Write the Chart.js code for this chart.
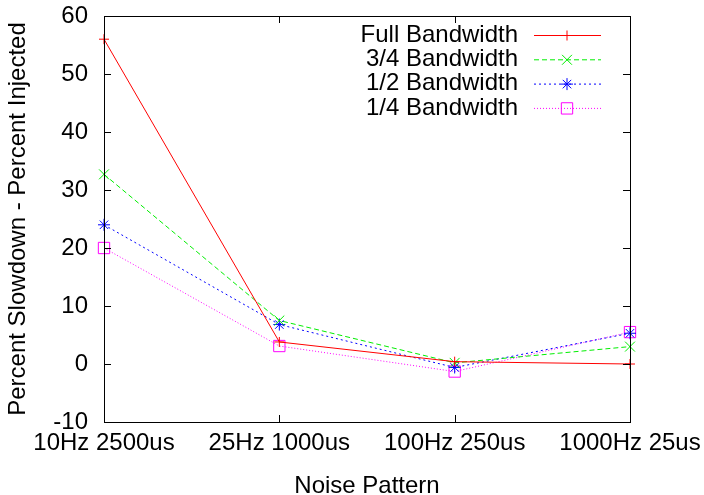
<!DOCTYPE html>
<html>
<head>
<meta charset="utf-8">
<script src="https://cdn.jsdelivr.net/npm/chart.js@4.4.1/dist/chart.umd.min.js"></script>
<style>
  body { margin: 0; background: #fff; }
</style>
</head>
<body>
<canvas id="noiseChart" width="704" height="495"></canvas>
<script>
const categories = ["10Hz 2500us", "25Hz 1000us", "100Hz 250us", "1000Hz 25us"];
const fullBw = [56, 3.8, 0.4, 0];
const threeQuarterBw = [32.7, 7.5, 0.2, 3.0];
const halfBw = [24, 6.8, -0.6, 5.3];
const quarterBw = [20, 3.1, -1.3, 5.5];
const yTicks = [-10, 0, 10, 20, 30, 40, 50, 60];

const FONT = "'Liberation Sans', Arial, sans-serif";
const FSIZE = 24;

// gnuplot-ish frame: box border + inward ticks, mirrored
const framePlugin = {
    id: "frame",
    afterDatasetsDraw(chart) {
        const { ctx, chartArea: a, scales } = chart;
        ctx.save();
        ctx.strokeStyle = "#000";
        ctx.lineWidth = 1;
        ctx.beginPath();
        yTicks.forEach(v => {
            const y = Math.round(scales.y.getPixelForValue(v)) + 0.5;
            ctx.moveTo(a.left, y); ctx.lineTo(a.left + 7, y);
            ctx.moveTo(a.right, y); ctx.lineTo(a.right - 7, y);
        });
        categories.forEach((c, i) => {
            const x = Math.round(scales.x.getPixelForValue(i)) + 0.5;
            ctx.moveTo(x, a.bottom); ctx.lineTo(x, a.bottom - 7);
            ctx.moveTo(x, a.top); ctx.lineTo(x, a.top + 7);
        });
        ctx.stroke();
        ctx.strokeRect(Math.round(a.left) + 0.5, Math.round(a.top) + 0.5,
            Math.round(a.right - a.left), Math.round(a.bottom - a.top));
        ctx.restore();
    }
};

// legend: right-aligned labels with a sample line and marker
const keyPlugin = {
    id: "key",
    afterDraw(chart) {
        const { ctx } = chart;
        ctx.save();
        ctx.font = FSIZE + "px " + FONT;
        ctx.textAlign = "right";
        ctx.textBaseline = "middle";
        chart.data.datasets.forEach((ds, i) => {
            const y = 35 + i * 24.3;
            ctx.fillStyle = "#000";
            ctx.fillText(ds.label, 518, y);
            ctx.strokeStyle = ds.borderColor;
            ctx.lineWidth = 1;
            ctx.setLineDash(ds.borderDash || []);
            ctx.beginPath();
            ctx.moveTo(534, y + 0.5); ctx.lineTo(601, y + 0.5);
            ctx.stroke();
            ctx.setLineDash([]);
            ctx.fillStyle = "rgba(0,0,0,0)";
            Chart.helpers.drawPoint(ctx, {
                pointStyle: ds.pointStyle, radius: ds.pointRadius, rotation: 0, borderWidth: 1
            }, 567, y + 0.5);
        });
        ctx.restore();
    }
};

function series(label, data, color, dash, style, radius) {
    return {
        label: label,
        data: data,
        borderColor: color,
        backgroundColor: "rgba(0,0,0,0)",
        pointBorderColor: color,
        pointBackgroundColor: "rgba(0,0,0,0)",
        borderWidth: 1,
        borderDash: dash,
        pointStyle: style,
        pointRadius: radius,
        pointBorderWidth: 1,
        tension: 0,
        fill: false
    };
}

new Chart(document.getElementById("noiseChart"), {
    type: "line",
    data: {
        labels: categories,
        datasets: [
            series("Full Bandwidth", fullBw, "#ff0000", [], "cross", 5),
            series("3/4 Bandwidth", threeQuarterBw, "#00ee00", [5, 3], "crossRot", 7),
            series("1/2 Bandwidth", halfBw, "#0000ff", [2, 3], "star", 6),
            series("1/4 Bandwidth", quarterBw, "#ff00ff", [1, 2], "rect", 8)
        ]
    },
    options: {
        responsive: false,
        animation: false,
        devicePixelRatio: 1,
        layout: { padding: { top: 16, right: 74, left: 0, bottom: 0 } },
        plugins: {
            legend: { display: false },
            tooltip: { enabled: false }
        },
        scales: {
            x: {
                type: "category",
                offset: false,
                grid: { display: false, drawTicks: false },
                border: { display: false },
                ticks: {
                    color: "#000",
                    font: { size: FSIZE, family: FONT },
                    padding: 7,
                    maxRotation: 0,
                    autoSkip: false
                },
                title: {
                    display: true,
                    text: "Noise Pattern",
                    color: "#000",
                    font: { size: FSIZE, family: FONT },
                    padding: { top: 0, bottom: -6 }
                },
                afterFit(scale) {
                    scale.height = 73;
                    scale.paddingLeft = 0;
                    scale.paddingRight = 0;
                }
            },
            y: {
                min: -10,
                max: 60,
                grid: { display: false, drawTicks: false },
                border: { display: false },
                afterBuildTicks(scale) { scale.ticks = yTicks.map(v => ({ value: v })); },
                ticks: {
                    color: "#000",
                    font: { size: FSIZE, family: FONT },
                    padding: 16,
                    autoSkip: false
                },
                title: {
                    display: true,
                    text: "Percent Slowdown - Percent Injected",
                    color: "#000",
                    font: { size: FSIZE, family: FONT },
                    padding: { top: 4, bottom: 0 }
                },
                afterFit(scale) {
                    scale.width = 104;
                    scale.paddingTop = 0;
                    scale.paddingBottom = 0;
                }
            }
        }
    },
    plugins: [framePlugin, keyPlugin]
});
</script>
</body>
</html>
